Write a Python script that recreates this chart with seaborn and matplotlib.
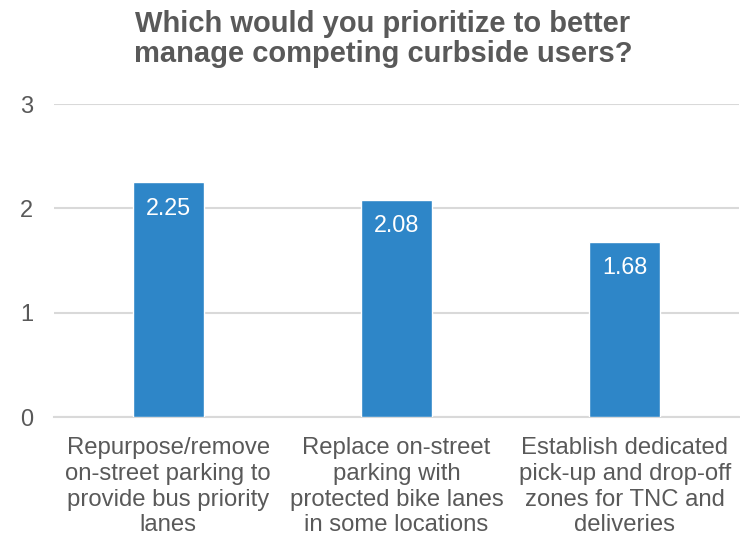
import matplotlib
matplotlib.use("Agg")
import matplotlib.pyplot as plt
import seaborn as sns
import pandas as pd

categories = [
    "Repurpose/remove\non-street parking to\nprovide bus priority\nlanes",
    "Replace on-street\nparking with\nprotected bike lanes\nin some locations",
    "Establish dedicated\npick-up and drop-off\nzones for TNC and\ndeliveries",
]
values = [2.25, 2.08, 1.68]
value_labels = ["2.25", "2.08", "1.68"]
yticks = [0, 1, 2, 3]
title = "Which would you prioritize to better\nmanage competing curbside users?"

sns.set_theme(style="white")
plt.rcParams["font.family"] = ["Liberation Sans", "DejaVu Sans"]

df = pd.DataFrame({"cat": categories, "val": values})

fig = plt.figure(figsize=(7.4, 5.42), dpi=100)
ax = fig.add_axes([54 / 740, 125 / 542, 685 / 740, 313 / 542])
sns.barplot(data=df, x="cat", y="val", color="#2E86C8", width=0.31,
            saturation=1, ax=ax, zorder=3)

ax.set_ylim(0, 3)
ax.set_xlim(-0.5, 2.5)
ax.set_yticks(yticks)
ax.set_yticklabels([str(t) for t in yticks], fontsize=17, color="#595959")
ax.tick_params(axis="y", length=0, pad=15)
ax.tick_params(axis="x", length=0, pad=14.5)
for lbl in ax.get_xticklabels():
    lbl.set_fontsize(17.2)
    lbl.set_color("#595959")
    lbl.set_linespacing(1.22)
ax.set_xlabel("")
ax.set_ylabel("")
ax.grid(axis="y", color="#D9D9D9", linewidth=1.5, zorder=0)
for s in ["top", "right", "left"]:
    ax.spines[s].set_visible(False)
ax.spines["bottom"].set_color("#D9D9D9")
ax.spines["bottom"].set_linewidth(1.5)

for bar, lab in zip(ax.patches, value_labels):
    ax.annotate(lab, (bar.get_x() + bar.get_width() / 2, bar.get_height()),
                xytext=(0, -26), textcoords="offset pixels",
                ha="center", va="center", color="white", fontsize=16.8, zorder=4)

fig.text(383 / 740, 1 - 10 / 542, title, ha="center", va="top",
         fontsize=21, fontweight="bold", color="#595959", linespacing=1.08)

fig.savefig("out.png", dpi=100)
